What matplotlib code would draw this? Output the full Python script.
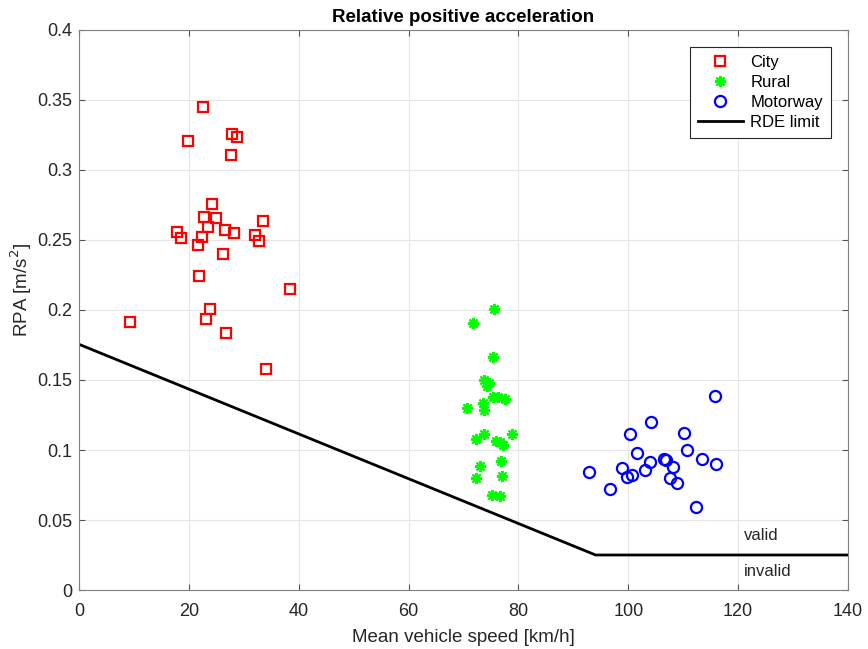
import numpy as np
import matplotlib
matplotlib.use("Agg")
import matplotlib.pyplot as plt

# City trips: mean speed [km/h], RPA [m/s^2]
city_v = [22.6, 27.9, 28.8, 19.8, 27.7, 24.3, 22.7, 25.0, 33.5, 17.8, 23.5, 26.6, 28.2,
          18.5, 22.4, 32.0, 32.7, 21.7, 26.3, 21.8, 38.5, 23.8, 9.2, 23.1, 26.8, 34.0]
city_rpa = [0.345, 0.3257, 0.3236, 0.3205, 0.3105, 0.2757, 0.2662, 0.2659, 0.2633, 0.256,
            0.259, 0.2571, 0.2552, 0.2512, 0.2521, 0.2533, 0.2495, 0.2464, 0.240, 0.2243,
            0.215, 0.2005, 0.1912, 0.1933, 0.1838, 0.1576]

rural_v = [75.5, 71.8, 75.4, 73.8, 74.7, 74.3, 75.4, 77.6, 70.7, 73.5, 73.8, 76.2,
           72.2, 73.7, 78.8, 76.0, 76.6, 77.2, 76.8, 73.0, 77.0, 72.3, 75.1, 76.6]
rural_rpa = [0.2007, 0.1905, 0.1667, 0.150, 0.1476, 0.1455, 0.1381, 0.1364, 0.130, 0.1333,
             0.1286, 0.1376, 0.1076, 0.1112, 0.1112, 0.1067, 0.106, 0.1036, 0.0921, 0.0886,
             0.0814, 0.0798, 0.0679, 0.0674]

motorway_v = [115.8, 104.1, 100.3, 110.1, 101.5, 110.6, 113.4, 116.0, 106.5, 106.8, 104.0,
              108.1, 98.9, 103.0, 92.8, 100.6, 99.7, 107.6, 108.9, 96.7, 112.3]
motorway_rpa = [0.1386, 0.1198, 0.1114, 0.1124, 0.0981, 0.0998, 0.0936, 0.090, 0.0936,
                0.0930, 0.0914, 0.0876, 0.0874, 0.086, 0.084, 0.0819, 0.0805, 0.080,
                0.0762, 0.0721, 0.0593]

# RDE RPA limit
limit_v = [0, 94.05, 140]
limit_rpa = [0.1755, 0.025, 0.025]

plt.rcParams['font.family'] = ['Liberation Sans', 'DejaVu Sans']

fig = plt.figure(figsize=(8.68, 6.49), dpi=100)
ax = fig.add_axes([0.091, 0.0909, 0.886, 0.8629])

grey = '#262626'
ax.plot(city_v, city_rpa, 's', ls='none', mfc='none', mec='#ff0000', ms=6.5, mew=1.6, label='City')
ax.plot(rural_v, rural_rpa, marker=(8, 2, 0), ls='none', color='#00ff00', ms=8, mew=1.6, label='Rural')
ax.plot(motorway_v, motorway_rpa, 'o', ls='none', mfc='none', mec='#0000ff', ms=8, mew=1.6, label='Motorway')
ax.plot(limit_v, limit_rpa, '-', color='black', lw=2, label='RDE limit')

ax.text(121, 0.039, 'valid', fontsize=12, color=grey, va='center')
ax.text(121, 0.0135, 'invalid', fontsize=12, color=grey, va='center')

ax.set_xlim(0, 140)
ax.set_ylim(0, 0.4)
ax.set_xticks(np.arange(0, 141, 20))
ax.set_yticks(np.arange(0, 0.401, 0.05))
ax.set_yticklabels(['0', '0.05', '0.1', '0.15', '0.2', '0.25', '0.3', '0.35', '0.4'])
ax.grid(True, color='#e6e6e6', lw=0.8)
ax.set_axisbelow(True)
ax.tick_params(direction='in', length=4, colors='#555555', labelcolor=grey, labelsize=13,
               top=True, right=True)
ax.tick_params(axis='x', pad=9)
ax.tick_params(axis='y', pad=5)
for s in ax.spines.values():
    s.set_color('#808080')

ax.set_xlabel('Mean vehicle speed [km/h]', fontsize=13.5, color=grey, labelpad=7)
ax.set_ylabel('RPA [m/s$^2$]', fontsize=13.5, color=grey)
ax.yaxis.set_label_coords(-0.058, 0.535)
ax.set_title('Relative positive acceleration', fontsize=13.5, fontweight='bold', color='black')

leg = ax.legend(loc='upper right', fontsize=12, fancybox=False, framealpha=1,
                edgecolor='#262626', borderaxespad=1.0, handlelength=2.7,
                handletextpad=0.45, labelspacing=0.3, borderpad=0.5)
leg.get_frame().set_linewidth(0.8)

fig.savefig('out.png', dpi=100)
